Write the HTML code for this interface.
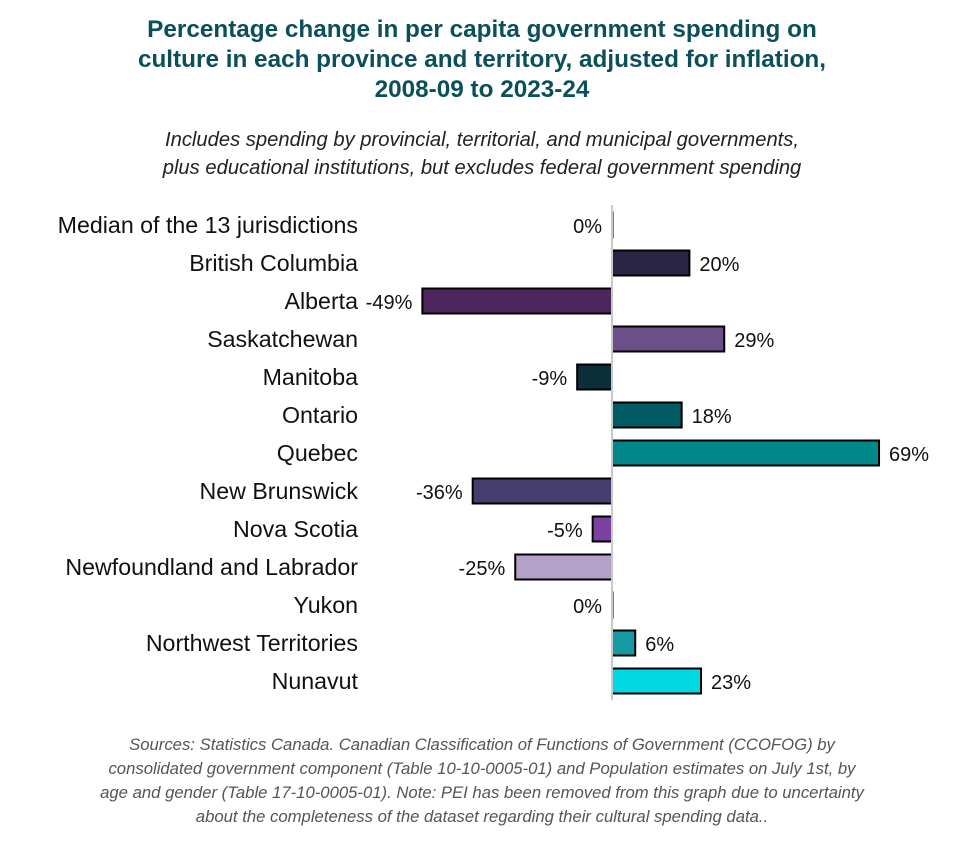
<!DOCTYPE html>
<html><head><meta charset="utf-8"><style>
body{margin:0;background:#fff;width:964px;height:851px;overflow:hidden;font-family:"Liberation Sans",sans-serif}
.t{position:absolute;left:0;width:964px;text-align:center}
</style></head><body>
<div class="t" style="top:15px;font-size:24.3px;font-weight:bold;color:#0b4f5a;line-height:30px">Percentage change in per capita government spending on<br>culture in each province and territory, adjusted for inflation,<br>2008-09 to 2023-24</div>
<div class="t" style="top:126px;font-size:20.2px;font-style:italic;color:#222;line-height:28px">Includes spending by provincial, territorial, and municipal governments,<br>plus educational institutions, but excludes federal government spending</div>
<svg id="c" width="964" height="851" style="position:absolute;left:0;top:0"></svg>
<div class="t" style="top:733px;font-size:16.7px;font-style:italic;color:#555;line-height:24px">Sources: Statistics Canada. Canadian Classification of Functions of Government (CCOFOG) by<br>consolidated government component (Table 10-10-0005-01) and Population estimates on July 1st, by<br>age and gender (Table 17-10-0005-01). Note: PEI has been removed from this graph due to uncertainty<br>about the completeness of the dataset regarding their cultural spending data..</div>
<script>
const categories=["Median of the 13 jurisdictions","British Columbia","Alberta","Saskatchewan","Manitoba","Ontario","Quebec","New Brunswick","Nova Scotia","Newfoundland and Labrador","Yukon","Northwest Territories","Nunavut"];
const values=[0,20,-49,29,-9,18,69,-36,-5,-25,0,6,23];
const colors=["#222","#2b2545","#4f255d","#6b4f88","#0d2f3c","#005b62","#00878a","#463e6c","#7b40a0","#b3a1c8","#222","#169aa2","#00d9e2"];
const NS="http://www.w3.org/2000/svg",svg=document.getElementById('c');
const x=v=>612+v*3.87, y=i=>225+i*38;
function mk(t,a){const e=document.createElementNS(NS,t);for(const k in a)e.setAttribute(k,a[k]);svg.appendChild(e);return e;}
categories.forEach((c,i)=>{
 const l=mk('text',{x:358,y:y(i)+8,'text-anchor':'end','font-size':23.2,fill:'#111'});l.textContent=c;
 
 
 const v=values[i],x0=Math.min(x(0),x(v)),w=Math.abs(x(v)-x(0));
 const r=mk('rect',{x:x0,y:y(i)-12.5,width:Math.max(w,0.5),height:25,fill:colors[i],stroke:'#000','stroke-width':2});
 
 
 const t=mk('text',{x:v>0?x(v)+10:x(v)-10,y:y(i)+8,'text-anchor':v>0?'start':'end','font-size':20,fill:'#111'});t.textContent=v+'%';
 
 
});
const ax=mk('line',{x1:612,x2:612,y1:205,y2:700,stroke:'#c8c8c8','stroke-width':2});


</script>
</body></html>
